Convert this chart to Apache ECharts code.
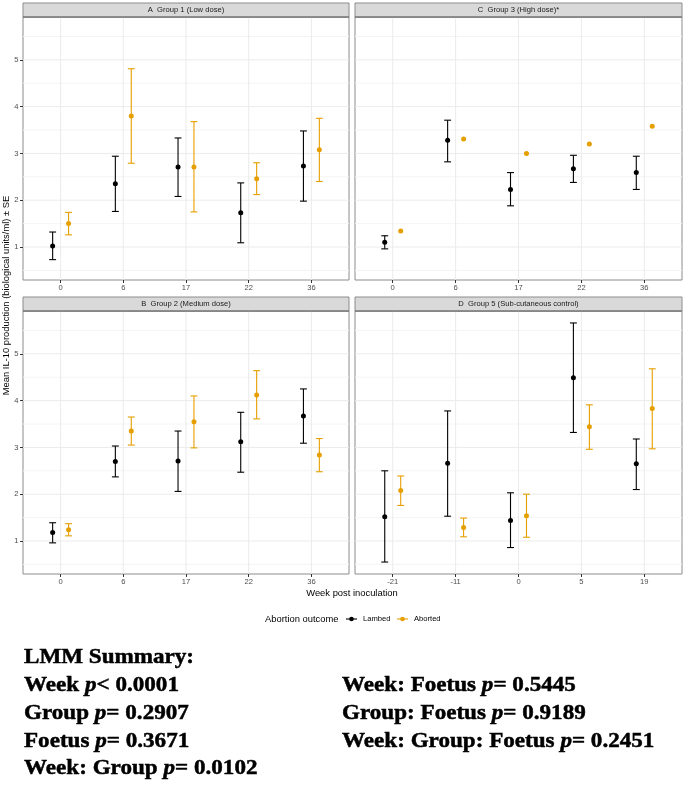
<!DOCTYPE html>
<html><head><meta charset="utf-8">
<script src="https://cdn.jsdelivr.net/npm/echarts@6/dist/echarts.min.js"></script>
<style>html,body{margin:0;padding:0;background:#fff}#chart{width:685px;height:785px}</style>
</head><body><div id="chart"></div>
<script>
// ---------- data ----------
const weeksMain = ['0', '6', '17', '22', '36'];
const weeksControl = ['-21', '-11', '0', '5', '19'];
const panelTitles = ['A  Group 1 (Low dose)', 'C  Group 3 (High dose)*', 'B  Group 2 (Medium dose)', 'D  Group 5 (Sub-cutaneous control)'];
const yTicks = [1, 2, 3, 4, 5];
const seriesNames = ['Lambed', 'Aborted'];

// Group 1 (Low dose)
const g1LambedMean = [1.02, 2.35, 2.71, 1.73, 2.73];
const g1LambedLow = [0.73, 1.76, 2.08, 1.09, 1.98];
const g1LambedHigh = [1.32, 2.94, 3.33, 2.37, 3.48];
const g1AbortedMean = [1.50, 3.80, 2.71, 2.46, 3.08];
const g1AbortedLow = [1.26, 2.79, 1.75, 2.12, 2.40];
const g1AbortedHigh = [1.74, 4.81, 3.68, 2.80, 3.75];
// Group 3 (High dose)
const g3LambedMean = [1.10, 3.28, 2.23, 2.67, 2.59];
const g3LambedLow = [0.96, 2.82, 1.88, 2.38, 2.23];
const g3LambedHigh = [1.24, 3.71, 2.59, 2.96, 2.94];
const g3AbortedMean = [1.34, 3.31, 3.00, 3.20, 3.58];
const g3AbortedLow = [null, null, null, null, null];
const g3AbortedHigh = [null, null, null, null, null];
// Group 2 (Medium dose)
const g2LambedMean = [1.18, 2.70, 2.71, 3.12, 3.67];
const g2LambedLow = [0.96, 2.37, 2.06, 2.47, 3.09];
const g2LambedHigh = [1.39, 3.03, 3.35, 3.75, 4.25];
const g2AbortedMean = [1.24, 3.35, 3.55, 4.12, 2.84];
const g2AbortedLow = [1.11, 3.05, 2.99, 3.61, 2.48];
const g2AbortedHigh = [1.37, 3.65, 4.10, 4.64, 3.19];
// Group 5 (Sub-cutaneous control)
const g5LambedMean = [1.52, 2.66, 1.44, 4.49, 2.65];
const g5LambedLow = [0.55, 1.53, 0.86, 3.32, 2.10];
const g5LambedHigh = [2.50, 3.78, 2.03, 5.66, 3.18];
const g5AbortedMean = [2.08, 1.29, 1.54, 3.44, 3.83];
const g5AbortedLow = [1.76, 1.09, 1.08, 2.96, 2.97];
const g5AbortedHigh = [2.39, 1.49, 2.00, 3.91, 4.68];

const summaryLeft = [
  [{t: 'LMM Summary:'}],
  [{t: 'Week '}, {t: 'p', i: 1}, {t: '< 0.0001'}],
  [{t: 'Group '}, {t: 'p', i: 1}, {t: '= 0.2907'}],
  [{t: 'Foetus '}, {t: 'p', i: 1}, {t: '= 0.3671'}],
  [{t: 'Week: Group '}, {t: 'p', i: 1}, {t: '= 0.0102'}]
];
const summaryRight = [
  [{t: 'Week: Foetus '}, {t: 'p', i: 1}, {t: '= 0.5445'}],
  [{t: 'Group: Foetus '}, {t: 'p', i: 1}, {t: '= 0.9189'}],
  [{t: 'Week: Group: Foetus '}, {t: 'p', i: 1}, {t: '= 0.2451'}]
];

// ---------- layout / style ----------
const panels = [
  {weeks: weeksMain, L: [g1LambedMean, g1LambedLow, g1LambedHigh], A: [g1AbortedMean, g1AbortedLow, g1AbortedHigh]},
  {weeks: weeksMain, L: [g3LambedMean, g3LambedLow, g3LambedHigh], A: [g3AbortedMean, g3AbortedLow, g3AbortedHigh]},
  {weeks: weeksMain, L: [g2LambedMean, g2LambedLow, g2LambedHigh], A: [g2AbortedMean, g2AbortedLow, g2AbortedHigh]},
  {weeks: weeksControl, L: [g5LambedMean, g5LambedLow, g5LambedHigh], A: [g5AbortedMean, g5AbortedLow, g5AbortedHigh]}
];
const boxes = [
  {left: 23, top: 17, width: 326, height: 263},
  {left: 355, top: 17, width: 327, height: 263},
  {left: 23, top: 311, width: 326, height: 263},
  {left: 355, top: 311, width: 327, height: 263}
];
const STRIP_H = 14;
const colors = ['#000000', '#E69F00'];
const dodge = 0.127;
const capHalf = 0.055;
const SANS = '"Liberation Sans", Arial, sans-serif';
const SERIF = '"Liberation Serif", "Times New Roman", serif';

// y range like ggplot: data range expanded by 5%
let allVals = [];
panels.forEach(p => { [p.L, p.A].forEach(s => s.forEach(a => a.forEach(v => { if (v != null) allVals.push(v); }))); });
const dMin = Math.min(...allVals), dMax = Math.max(...allVals);
const yMin = dMin - 0.05 * (dMax - dMin), yMax = dMax + 0.05 * (dMax - dMin);

const grids = [], xAxes = [], yAxes = [], series = [], graphics = [];

panels.forEach((p, k) => {
  const b = boxes[k];
  grids.push({left: b.left, top: b.top, width: b.width, height: b.height, show: true,
    borderColor: '#8c8c8c', borderWidth: 1, backgroundColor: 'transparent', containLabel: false});
  const cats = p.weeks;
  xAxes.push({type: 'value', gridIndex: k, min: 0.4, max: 5.6,
    axisLine: {show: false}, splitLine: {show: false},
    axisTick: {show: true, customValues: [1, 2, 3, 4, 5], length: 3, lineStyle: {color: '#333', width: 1}},
    axisLabel: {show: true, customValues: [1, 2, 3, 4, 5], margin: 4, color: '#4d4d4d', fontSize: 7.6, fontFamily: SANS,
      formatter: v => cats[Math.round(v) - 1]}});
  const leftCol = (k % 2 === 0);
  yAxes.push({type: 'value', gridIndex: k, min: yMin, max: yMax,
    axisLine: {show: false}, splitLine: {show: false},
    axisTick: {show: leftCol, customValues: yTicks, length: 3, lineStyle: {color: '#333', width: 1}},
    axisLabel: {show: leftCol, customValues: yTicks, margin: 4.5, color: '#4d4d4d', fontSize: 7.6, fontFamily: SANS}});

  // gridlines: [orientation 0=horizontal 1=vertical, value, major?]
  const gl = [];
  for (let v = 0.5; v < yMax; v += 1) if (v > yMin) gl.push([0, v, 0]);
  yTicks.forEach(v => gl.push([0, v, 1]));
  [1, 2, 3, 4, 5].forEach(v => gl.push([1, v, 1]));
  series.push({type: 'custom', xAxisIndex: k, yAxisIndex: k, data: gl, silent: true, z: 1,
    encode: {x: -1, y: -1},
    renderItem: (params, api) => {
      const cs = params.coordSys;
      const o = api.value(0), v = api.value(1), mj = api.value(2);
      const st = {stroke: mj ? '#ebebeb' : '#f4f4f4', lineWidth: 1};
      if (o === 0) {
        const y = api.coord([1, v])[1];
        return {type: 'line', shape: {x1: cs.x, y1: y, x2: cs.x + cs.width, y2: y}, style: st};
      }
      const x = api.coord([v, 1])[0];
      return {type: 'line', shape: {x1: x, y1: cs.y, x2: x, y2: cs.y + cs.height}, style: st};
    }});

  [p.L, p.A].forEach((s, si) => {
    const off = si === 0 ? -dodge : dodge;
    const rows = [];
    s[0].forEach((m, i) => {
      const x = i + 1 + off;
      rows.push([x, m, s[1][i] == null ? '-' : s[1][i], s[2][i] == null ? '-' : s[2][i]]);
    });
    const col = colors[si];
    series.push({type: 'custom', name: seriesNames[si], xAxisIndex: k, yAxisIndex: k, data: rows, z: 5,
      encode: {x: 0, y: [1, 2, 3]}, silent: true, clip: false,
      renderItem: (params, api) => {
        const x = api.value(0), m = api.value(1), lo = api.value(2), hi = api.value(3);
        const pm = api.coord([x, m]);
        const children = [];
        if (isFinite(lo) && isFinite(hi)) {
          const pl = api.coord([x, lo]), ph = api.coord([x, hi]);
          const hw = api.coord([x + capHalf, lo])[0] - pl[0];
          const st = {stroke: col, lineWidth: 1.1, fill: null};
          children.push({type: 'line', shape: {x1: pl[0], y1: pl[1], x2: ph[0], y2: ph[1]}, style: st});
          children.push({type: 'line', shape: {x1: pl[0] - hw, y1: pl[1], x2: pl[0] + hw, y2: pl[1]}, style: st});
          children.push({type: 'line', shape: {x1: ph[0] - hw, y1: ph[1], x2: ph[0] + hw, y2: ph[1]}, style: st});
        }
        children.push({type: 'circle', shape: {cx: pm[0], cy: pm[1], r: 2.5}, style: {fill: col, stroke: null}, z2: 5});
        return {type: 'group', children: children};
      }});
  });

  // strip
  graphics.push({type: 'rect', shape: {x: b.left, y: b.top - STRIP_H, width: b.width, height: STRIP_H},
    style: {fill: '#d9d9d9', stroke: '#8c8c8c', lineWidth: 1}, z: 10});
  graphics.push({type: 'line', shape: {x1: b.left, y1: b.top, x2: b.left + b.width, y2: b.top},
    style: {stroke: '#666', lineWidth: 1}, z: 11});
  graphics.push({type: 'text', x: b.left + b.width / 2, y: b.top - STRIP_H / 2, z: 12,
    style: {text: panelTitles[k], fill: '#1a1a1a', font: '7.6px ' + SANS, textAlign: 'center', textVerticalAlign: 'middle'}});
});

// axis titles
graphics.push({type: 'text', x: 352, y: 593, style: {text: 'Week post inoculation', fill: '#000', font: '9.4px ' + SANS, textAlign: 'center', textVerticalAlign: 'middle'}});
graphics.push({type: 'text', x: 6, y: 295.5, rotation: Math.PI / 2,
  style: {text: 'Mean IL-10 production (biological units/ml) \u00b1 SE', fill: '#000', font: '9.4px ' + SANS, textAlign: 'center', textVerticalAlign: 'middle'}});

// legend
const legY = 619;
graphics.push({type: 'text', x: 265, y: legY, style: {text: 'Abortion outcome', fill: '#000', font: '9.4px ' + SANS, textAlign: 'left', textVerticalAlign: 'middle'}});
const legX = [346, 397];
seriesNames.forEach((n, i) => {
  const x0 = legX[i];
  graphics.push({type: 'line', shape: {x1: x0, y1: legY, x2: x0 + 11, y2: legY}, style: {stroke: colors[i], lineWidth: 1.1}});
  graphics.push({type: 'circle', shape: {cx: x0 + 5.5, cy: legY, r: 2.3}, style: {fill: colors[i]}});
  graphics.push({type: 'text', x: x0 + 17, y: legY, style: {text: n, fill: '#000', font: '7.6px ' + SANS, textAlign: 'left', textVerticalAlign: 'middle'}});
});

// summary text
function richLine(parts) { return parts.map(p => p.i ? '{i|' + p.t + '}' : '{b|' + p.t + '}').join(''); }
const rich = {
  b: {fontFamily: SERIF, fontWeight: 'bold', fontSize: 22, fill: '#000', stroke: '#000', lineWidth: 0.5},
  i: {fontFamily: SERIF, fontWeight: 'bold', fontStyle: 'italic', fontSize: 22, fill: '#000', stroke: '#000', lineWidth: 0.5}
};
const rowY = [657, 685, 713, 741, 768.5];
summaryLeft.forEach((ln, r) => {
  graphics.push({type: 'text', x: 24, y: rowY[r], scaleX: 1.05,
    style: {text: richLine(ln), rich: rich, textAlign: 'left', textVerticalAlign: 'middle'}});
});
summaryRight.forEach((ln, r) => {
  graphics.push({type: 'text', x: 342, y: rowY[r + 1], scaleX: 1.05,
    style: {text: richLine(ln), rich: rich, textAlign: 'left', textVerticalAlign: 'middle'}});
});

const chart = echarts.init(document.getElementById('chart'), null, {renderer: 'canvas'});
chart.setOption({
  animation: false,
  backgroundColor: '#ffffff',
  grid: grids, xAxis: xAxes, yAxis: yAxes, series: series, graphic: graphics
});
</script></body></html>
